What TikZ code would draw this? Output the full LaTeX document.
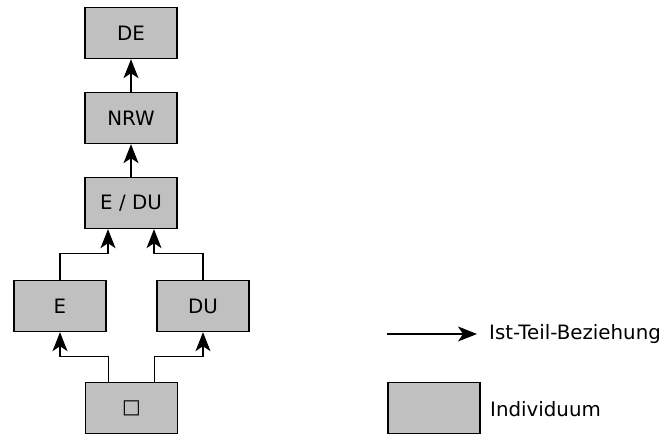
\documentclass[tikz,border=0pt]{standalone}
\usepackage{fontspec}
\setmainfont{DejaVu Sans}
\usetikzlibrary{arrows.meta}
\definecolor{boxgray}{HTML}{C0C0C0}
\begin{document}
\begin{tikzpicture}[x=1pt,y=-1pt,
  indiv/.style={draw=black, fill=boxgray, line width=1.4pt, minimum width=92pt, minimum height=51pt, inner sep=0pt, font=\fontsize{19.8}{23}\selectfont},
  lbl/.style={anchor=west, inner sep=0pt, font=\fontsize{19.8}{23}\selectfont},
  arr/.style={line width=1.4pt, -{Stealth[length=19pt, width=15pt, inset=5pt]}}]
\useasboundingbox (0,0) rectangle (665,435);
\node[indiv] (DE)  at (131,33)  {DE};
\node[indiv] (NRW) at (131,118) {NRW};
\node[indiv] (EDU) at (131,203) {E / DU};
\node[indiv] (E)   at (60,306)  {E};
\node[indiv] (DU)  at (203,306) {DU};
\node[indiv] (SQ)  at (131.5,408) {□};
\draw[arr] (NRW.north) -- (DE.south);
\draw[arr] (EDU.north) -- (NRW.south);
\draw[arr] (E.north) -- ++(0,-26) -| ([xshift=-23pt]EDU.south);
\draw[arr] (DU.north) -- ++(0,-26) -| ([xshift=23pt]EDU.south);
\draw[arr] ([xshift=-23pt]SQ.north) -- ++(0,-25) -| (E.south);
\draw[arr] ([xshift=23pt]SQ.north) -- ++(0,-25) -| (DU.south);
% legend
\coordinate (LA) at (387,334);
\node[lbl] (LT) at (489,334) {Ist-Teil-Beziehung};
\coordinate (LB) at (477,334);
\draw[arr] (LA) -- (LB);
\node[indiv] (LBox) at (434,408) {};
\node[lbl] (LI) at (490,409) {Individuum};
\end{tikzpicture}
\end{document}
